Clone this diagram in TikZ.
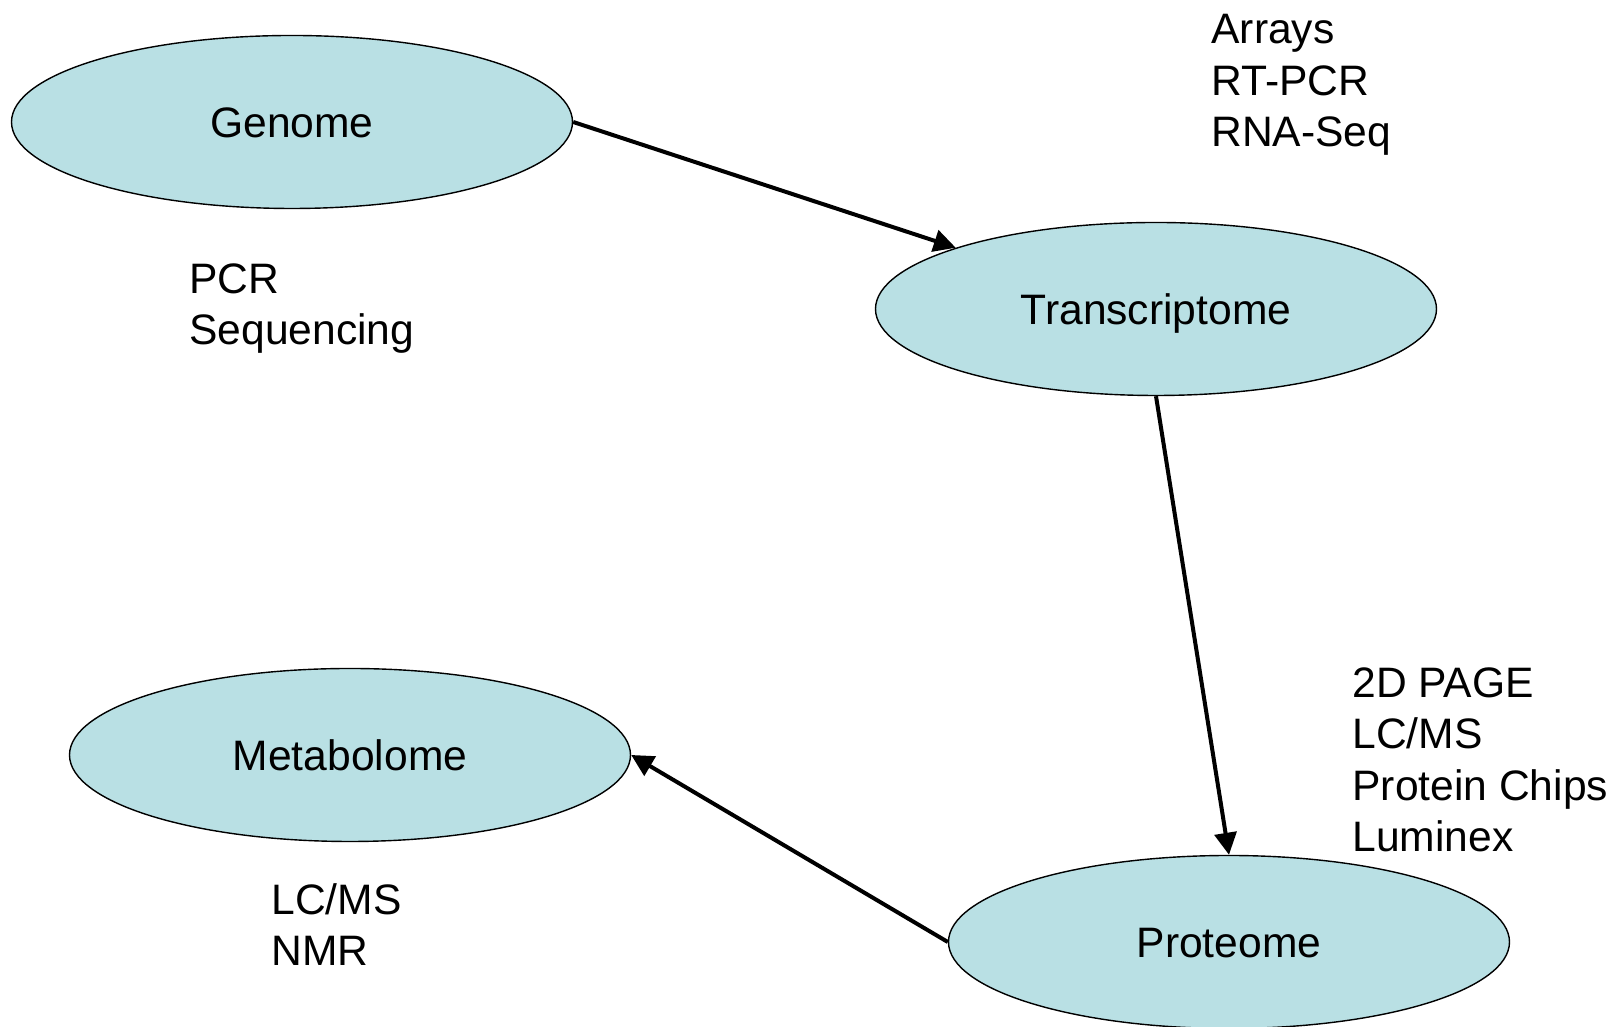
\documentclass[tikz,border=0pt]{standalone}
\usepackage{fontspec}
\setmainfont{Liberation Sans}
\usepackage{xcolor}
\usetikzlibrary{shapes.geometric,arrows.meta}
\definecolor{omefill}{RGB}{185,224,228}
\tikzstyle{ome} = [ellipse, draw = black, fill = omefill, line width = 0.7pt, inner sep = 0pt, minimum width = 280.5pt, minimum height = 86.5pt, text height = 15.5pt, text depth = 0pt, font = \fontsize{21.3}{25.8}\selectfont]
\tikzstyle{tech} = [anchor = base west, align = left, inner sep = 0pt, font = \fontsize{21.3}{25.8}\selectfont]
\tikzstyle{flow} = [-{Triangle[length = 11pt, width = 11pt]}, line width = 2pt]

\begin{document}
\begin{tikzpicture}[x = 0.5pt, y = 0.5pt]
            \useasboundingbox (0, 0) rectangle (1619, 1027);
            \node (genome) at (292, 905) [ome] {Genome};
            \node (transcriptome) at (1156, 718) [ome] {Transcriptome};
            \node (metabolome) at (350, 272) [ome] {Metabolome};
            \node (proteome) at (1229, 85) [ome] {Proteome};
            \node (genometech) at (189, 682) [tech] {PCR\\Sequencing};
            \node (transcriptometech) at (1211, 880) [tech] {Arrays\\RT-PCR\\RNA-Seq};
            \node (proteometech) at (1352, 175) [tech] {2D PAGE\\LC/MS\\Protein Chips\\Luminex};
            \node (metabolometech) at (271, 61) [tech] {LC/MS\\NMR};
            \draw [flow] (genome.east) -- (transcriptome.163);
            \draw [flow] (transcriptome.south) -- (proteome.north);
            \draw [flow] (proteome.west) -- (metabolome.east);
        \end{tikzpicture}
\end{document}
